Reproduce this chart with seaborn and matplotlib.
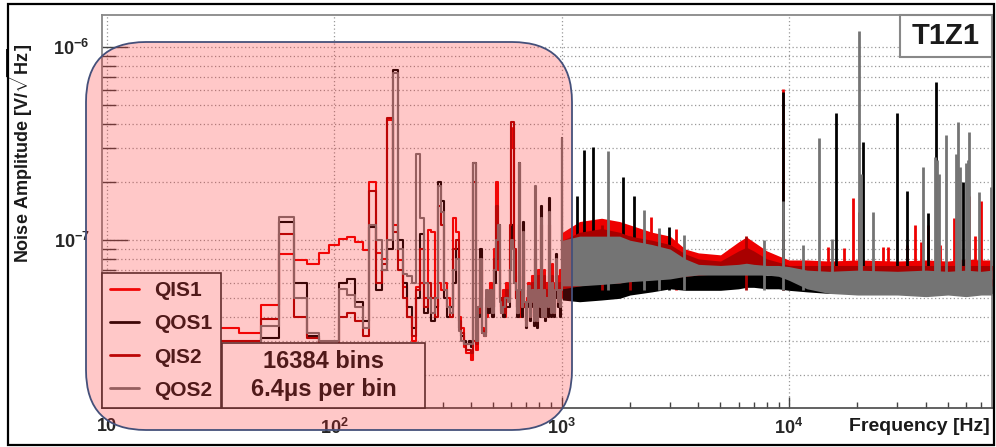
import numpy as np
import pandas as pd
import seaborn as sns
import matplotlib
matplotlib.use("Agg")
import matplotlib.pyplot as plt
from matplotlib.patches import FancyBboxPatch, Rectangle
from matplotlib.lines import Line2D
from matplotlib.transforms import IdentityTransform
from matplotlib.ticker import FixedLocator, FixedFormatter, NullFormatter, LogLocator


# readout settings -> width of one FFT bin in Hz
n_bins = 16384
t_bin = 6.4e-6
bin_hz = 1.0 / (n_bins * t_bin)

channels = ["QIS1", "QOS1", "QIS2", "QOS2"]
colors = ["#ee0000", "#000000", "#a80000", "#747474"]

# low frequency part, one value per bin (bins 1..105), in 1e-8 V/sqrt(Hz)
qis1_low = [3.0, 3.2, 3.5, 3.3, 4.6, 8.5, 7.9, 7.5, 8.6, 9.5,
            10.2, 10.4, 9.8, 8.9, 20.0, 8.6, 8.0, 42.0, 12.0, 7.9,
            5.7, 4.0, 3.0, 5.7, 6.0, 5.0, 11.3, 11.0, 4.5, 6.0,
            5.5, 6.0, 5.0, 4.5, 13.0, 11.0, 4.0, 3.5, 2.8, 2.6,
            2.6, 2.4, 3.0, 2.7, 4.5, 8.2, 3.5, 3.2, 4.0, 5.0,
            6.0, 4.5, 9.0, 20.0, 7.0, 5.0, 4.2, 5.5, 4.0, 6.0,
            5.0, 9.0, 30.0, 38.0, 8.0, 5.0, 4.5, 6.5, 4.0, 5.5,
            8.0, 4.5, 3.8, 5.0, 6.0, 4.2, 5.0, 6.5, 4.0, 6.0,
            5.0, 4.0, 7.0, 5.5, 6.0, 4.5, 5.0, 7.0, 4.2, 6.0,
            5.5, 6.5, 4.5, 5.0, 7.5, 5.0, 4.5, 6.0, 5.5, 6.5,
            5.0, 6.0, 7.0, 5.5, 6.0]
qos1_low = [2.6, 2.7, 2.8, 2.9, 3.1, 12.5, 6.0, 3.2, 2.9, 2.9,
            6.0, 6.3, 4.8, 3.8, 11.7, 5.5, 7.0, 9.0, 76.0, 10.0,
            6.0, 4.5, 3.5, 5.0, 10.8, 4.2, 5.0, 3.8, 4.5, 20.0,
            16.0, 5.0, 4.0, 4.5, 6.0, 9.0, 3.5, 3.2, 3.0, 2.9,
            3.0, 2.8, 25.0, 3.0, 4.0, 9.0, 3.3, 3.3, 5.0, 4.2,
            5.0, 4.0, 6.0, 8.0, 12.0, 5.0, 4.5, 4.0, 5.0, 4.5,
            4.5, 7.0, 12.0, 10.0, 6.0, 5.0, 4.0, 25.0, 5.0, 4.0,
            12.5, 4.5, 3.5, 4.5, 5.5, 3.8, 4.5, 5.0, 3.6, 9.0,
            4.5, 3.5, 5.0, 4.0, 15.0, 4.0, 4.5, 5.0, 3.8, 4.5,
            4.0, 16.5, 4.5, 4.0, 5.5, 4.2, 4.0, 5.0, 8.5, 5.0,
            4.5, 5.0, 4.0, 5.5, 34.0]
qis2_low = [2.8, 2.9, 3.0, 3.0, 3.9, 10.8, 4.0, 3.1, 2.9, 2.9,
            4.0, 4.2, 3.8, 3.2, 18.0, 6.0, 7.5, 43.0, 11.0, 7.0,
            5.0, 4.0, 3.2, 5.5, 9.0, 4.5, 6.0, 5.0, 4.0, 15.0,
            12.0, 5.5, 4.5, 4.0, 9.0, 10.0, 3.8, 3.3, 2.9, 2.7,
            2.7, 2.6, 20.0, 2.9, 4.2, 7.0, 3.4, 3.3, 4.5, 5.0,
            5.5, 4.5, 8.0, 15.0, 8.0, 5.0, 4.3, 5.0, 4.2, 5.5,
            5.0, 12.0, 41.0, 41.0, 9.0, 5.0, 4.5, 12.0, 4.5, 5.0,
            10.0, 4.5, 3.8, 4.8, 5.5, 4.0, 4.8, 6.0, 4.0, 8.0,
            4.8, 3.8, 6.5, 5.0, 12.0, 4.2, 4.8, 6.5, 4.0, 5.5,
            5.0, 12.0, 4.5, 4.8, 6.5, 4.8, 4.2, 5.5, 7.0, 6.0,
            4.8, 5.5, 6.0, 5.0, 20.0]
qos2_low = [2.7, 2.8, 2.9, 2.9, 3.6, 13.2, 5.0, 3.3, 3.0, 3.0,
            5.6, 5.2, 4.5, 3.5, 12.0, 10.0, 7.0, 10.0, 74.0, 9.0,
            6.7, 6.5, 6.0, 28.0, 13.0, 6.0, 5.0, 4.2, 5.0, 19.0,
            14.0, 5.5, 4.5, 4.2, 7.0, 8.0, 3.4, 3.0, 2.9, 2.9,
            2.9, 2.9, 25.0, 3.0, 4.5, 8.0, 3.3, 3.2, 5.5, 4.5,
            5.5, 4.2, 7.0, 10.0, 12.0, 4.8, 4.2, 4.5, 5.0, 5.0,
            4.8, 7.0, 10.0, 9.0, 6.0, 5.5, 4.2, 25.0, 5.5, 4.5,
            11.0, 4.8, 3.6, 4.8, 5.8, 4.0, 4.8, 5.5, 3.8, 19.0,
            4.8, 3.8, 5.5, 4.5, 13.0, 4.0, 4.8, 5.5, 4.0, 5.0,
            4.5, 14.0, 4.8, 4.2, 6.0, 4.5, 4.2, 5.5, 8.0, 5.5,
            4.8, 5.5, 4.5, 5.5, 34.0]

# high frequency noise floor: lower / upper edge of the noise band, 1e-8 V/sqrt(Hz)
band_freq = [1010, 1200, 1500, 1800, 2000, 2500, 3000, 3500, 4000, 5000, 6000, 6500, 7000,
             8000, 9000, 10000, 12000, 15000, 20000, 30000, 40000, 50000, 60000, 70000, 78125]
qis1_hi = [11.0, 12.5, 13.0, 12.5, 12.0, 11.0, 10.5, 9.0, 8.6, 8.4, 9.8, 10.4, 9.8,
           8.8, 8.3, 7.9, 7.9, 7.8, 7.9, 7.8, 7.9, 7.8, 8.0, 7.9, 7.9]
qis1_lo = [5.6, 5.8, 6.0, 6.0, 6.2, 6.3, 6.4, 6.5, 6.6, 6.7, 6.8, 6.8, 6.8,
           6.7, 6.6, 6.3, 6.0, 5.8, 5.8, 5.8, 5.8, 5.8, 5.8, 5.8, 5.8]
qos1_hi = [9.0, 9.5, 9.5, 9.0, 8.5, 8.0, 7.6, 7.0, 6.8, 6.7, 6.7, 6.8, 6.7,
           6.6, 6.6, 6.5, 6.4, 6.3, 6.3, 6.3, 6.3, 6.3, 6.3, 6.3, 6.3]
qos1_lo = [4.9, 4.8, 4.9, 5.0, 5.2, 5.4, 5.6, 5.5, 5.5, 5.5, 5.6, 5.7, 5.7,
           5.6, 5.6, 5.5, 5.4, 5.3, 5.3, 5.3, 5.3, 5.3, 5.3, 5.3, 5.3]
qis2_hi = [10.0, 11.0, 11.5, 11.0, 10.5, 10.0, 9.5, 8.5, 8.0, 7.8, 8.8, 9.2, 8.8,
           8.0, 7.7, 7.4, 7.4, 7.4, 7.4, 7.4, 7.4, 7.4, 7.4, 7.4, 7.4]
qis2_lo = [5.6, 5.8, 6.0, 6.0, 6.2, 6.3, 6.4, 6.5, 6.6, 6.7, 6.8, 6.8, 6.8,
           6.7, 6.6, 6.3, 6.0, 5.8, 5.8, 5.8, 5.8, 5.8, 5.8, 5.8, 5.8]
qos2_hi = [10.0, 10.5, 10.5, 10.5, 10.0, 9.5, 9.0, 8.0, 7.5, 7.4, 7.5, 7.6, 7.5,
           7.4, 7.4, 7.3, 7.0, 6.9, 7.0, 6.9, 7.0, 6.9, 7.0, 6.9, 7.0]
qos2_lo = [5.8, 5.8, 5.9, 6.0, 6.1, 6.2, 6.3, 6.5, 6.6, 6.6, 6.6, 6.6, 6.6,
           6.6, 6.5, 6.2, 5.6, 5.3, 5.2, 5.2, 5.1, 5.2, 5.1, 5.2, 5.2]

# narrow lines sticking out of the noise floor: frequency (Hz), peak (1e-8)
qis1_line_f = [2466, 3177, 9415, 14800, 17460, 19100, 25900, 27300, 33000, 36000, 38000,
               41000, 46000, 53000, 62000, 66000, 70000]
qis1_line_v = [13.2, 11.5, 60.5, 9.2, 9.1, 16.5, 9.2, 9.2, 9.5, 12.0, 9.8,
               12.0, 9.5, 13.0, 17.0, 10.5, 16.0]
qos1_line_f = [1164, 1250, 1370, 1859, 2077, 2960, 9400, 16100, 21200, 29900, 33100, 41000, 44400, 58000]
qos1_line_v = [17.0, 29.2, 30.3, 21.2, 16.9, 11.7, 59.0, 45.5, 32.2, 45.5, 18.1, 13.8, 66.0, 20.0]
qis2_line_f = [1500, 2000, 6500, 20300, 44400]
qis2_line_v = [12.0, 10.5, 10.5, 14.0, 22.0]
qos2_line_f = [1596, 2297, 2675, 3444, 7762, 9430, 11500, 13560, 15460, 20300, 20700,
               23400, 38900, 44000, 44800, 45500, 49200, 54000, 55500, 56500, 60000,
               61000, 62000, 68700, 77000]
qos2_line_v = [28.9, 14.3, 11.6, 10.6, 10.0, 16.0, 9.5, 33.8, 10.2, 121.0, 22.0,
               14.0, 23.9, 27.0, 26.0, 22.0, 35.0, 28.0, 40.8, 24.0, 25.0,
               26.0, 36.2, 17.7, 18.8]
line_base = 5.5  # lines start inside the noise band

x_ticks = [10, 100, 1000, 10000]
x_tick_labels = ["10", "$10^{2}$", "$10^{3}$", "$10^{4}$"]
y_ticks = [1e-7, 1e-6]
y_tick_labels = ["$10^{-7}$", "$10^{-6}$"]


sns.set_style("ticks")
plt.rcParams["font.family"] = ["Liberation Sans", "DejaVu Sans"]
plt.rcParams["font.weight"] = "bold"
plt.rcParams["mathtext.fontset"] = "custom"
plt.rcParams["mathtext.rm"] = "Liberation Sans:bold"
plt.rcParams["mathtext.bf"] = "Liberation Sans:bold"
plt.rcParams["mathtext.it"] = "Liberation Sans:bold:italic"
plt.rcParams["text.color"] = "#1a1a1a"

fig = plt.figure(figsize=(9.96, 4.47), dpi=100)
ax = fig.add_axes([0.1024, 0.0872, 0.8936, 0.8792])
ax.set_xscale("log")
ax.set_yscale("log")

# step spectra at low frequency
low_values = [qis1_low, qos1_low, qis2_low, qos2_low]
rows = []
for name, vals in zip(channels, low_values):
    for k, v in enumerate(vals, start=1):
        rows.append((k * bin_hz, v * 1e-8, name))
low_df = pd.DataFrame(rows, columns=["freq", "amp", "channel"])
sns.lineplot(data=low_df, x="freq", y="amp", hue="channel", hue_order=channels,
             palette=dict(zip(channels, colors)), estimator=None, drawstyle="steps-post",
             lw=1.5, legend=False, ax=ax, zorder=2)

# noise band + lines at high frequency
bands = [(qis1_lo, qis1_hi), (qos1_lo, qos1_hi), (qis2_lo, qis2_hi), (qos2_lo, qos2_hi)]
lines = [(qis1_line_f, qis1_line_v), (qos1_line_f, qos1_line_v),
         (qis2_line_f, qis2_line_v), (qos2_line_f, qos2_line_v)]
for i, c in enumerate(colors):
    lo, hi = bands[i]
    ax.fill_between(band_freq, np.array(lo) * 1e-8, np.array(hi) * 1e-8,
                    color=c, lw=0, zorder=2 + i)
    lf, lv = lines[i]
    ax.vlines(lf, line_base * 1e-8, np.array(lv) * 1e-8, color=c, lw=2.0, zorder=2.5 + i)

ax.set_xlim(9.54, 78125)
ax.set_ylim(1.35e-8, 1.47e-6)
ax.set_xlabel("")
ax.set_ylabel("")

ax.xaxis.set_major_locator(FixedLocator(x_ticks))
ax.xaxis.set_major_formatter(FixedFormatter(x_tick_labels))
ax.xaxis.set_minor_locator(LogLocator(base=10, subs=(2, 3, 4, 5, 6, 7, 8, 9)))
ax.xaxis.set_minor_formatter(NullFormatter())
ax.yaxis.set_major_locator(FixedLocator(y_ticks))
ax.yaxis.set_major_formatter(FixedFormatter(y_tick_labels))
ax.yaxis.set_minor_locator(LogLocator(base=10, subs=(2, 3, 4, 5, 6, 7, 8, 9)))
ax.yaxis.set_minor_formatter(NullFormatter())

ax.tick_params(axis="x", which="major", direction="in", length=8, width=1, color="#444",
               labelsize=13, pad=7, top=False)
ax.tick_params(axis="x", which="minor", direction="in", length=4, width=1, color="#444", top=False)
ax.tick_params(axis="y", which="major", direction="in", length=19, width=1, color="#444",
               labelsize=13, pad=9, right=False)
ax.tick_params(axis="y", which="minor", direction="in", length=10, width=1, color="#444", right=False)

ax.grid(axis="y", which="both", linestyle=(0, (1, 2)), color="#999999", lw=0.9)
ax.grid(axis="x", which="major", linestyle=(0, (1, 2)), color="#999999", lw=0.9)
ax.set_axisbelow(True)
for side, sp in ax.spines.items():
    sp.set_color("#888888" if side != "bottom" else "#555555")
    sp.set_linewidth(1.3)

# legend
handles = [Line2D([], [], color=c, lw=2) for c in colors]
leg = ax.legend(handles, channels, loc="lower left", bbox_to_anchor=(0, 0), borderaxespad=0,
                frameon=True, fancybox=False, framealpha=1, edgecolor="#333333",
                prop={"weight": "bold", "size": 15}, handlelength=1.4, handletextpad=0.7,
                labelspacing=0.68, borderpad=0.4)
leg.get_frame().set_linewidth(1.2)
leg.set_zorder(20)

# binning info box
ax.add_patch(Rectangle((0.135, 0.0), 0.228, 0.165, transform=ax.transAxes, facecolor="white",
                       edgecolor="#333333", lw=1.2, zorder=20, clip_on=False))
ax.text(0.249, 0.083, "16384 bins\n6.4\u03bcs per bin", transform=ax.transAxes, ha="center",
        va="center", fontsize=17, fontweight="bold", linespacing=1.25, zorder=21)

# channel tag
ax.add_patch(Rectangle((0.8966, 0.893), 0.1034, 0.107, transform=ax.transAxes, facecolor="white",
                       edgecolor="#888888", lw=1.5, zorder=20, clip_on=False))
ax.text(0.948, 0.946, "T1Z1", transform=ax.transAxes, ha="center", va="center",
        fontsize=21, fontweight="bold", zorder=21)

fig.text(0.02, 0.412, r"Noise Amplitude [V/$\sqrt{\mathrm{Hz}}$]", rotation=90,
         ha="center", va="bottom", fontsize=13, fontweight="bold")
fig.text(0.994, 0.045, "Frequency [Hz]", ha="right", va="center", fontsize=14, fontweight="bold")

# highlighted low frequency region (rounded box drawn over the plot)
px = IdentityTransform()
fig.add_artist(FancyBboxPatch((86, 17), 486, 388, boxstyle="round,pad=0,rounding_size=60",
                              transform=px, facecolor=(1.0, 0.1, 0.1, 0.24),
                              edgecolor="none", zorder=30))
fig.add_artist(FancyBboxPatch((86, 17), 486, 388, boxstyle="round,pad=0,rounding_size=60",
                              transform=px, fill=False, edgecolor="#44507a", lw=1.3, zorder=31))

# outer frame
fig.add_artist(Rectangle((8, 2), 986, 441, transform=px, fill=False, edgecolor="black",
                         lw=1.6, zorder=40))

fig.savefig("out.png", dpi=100)
